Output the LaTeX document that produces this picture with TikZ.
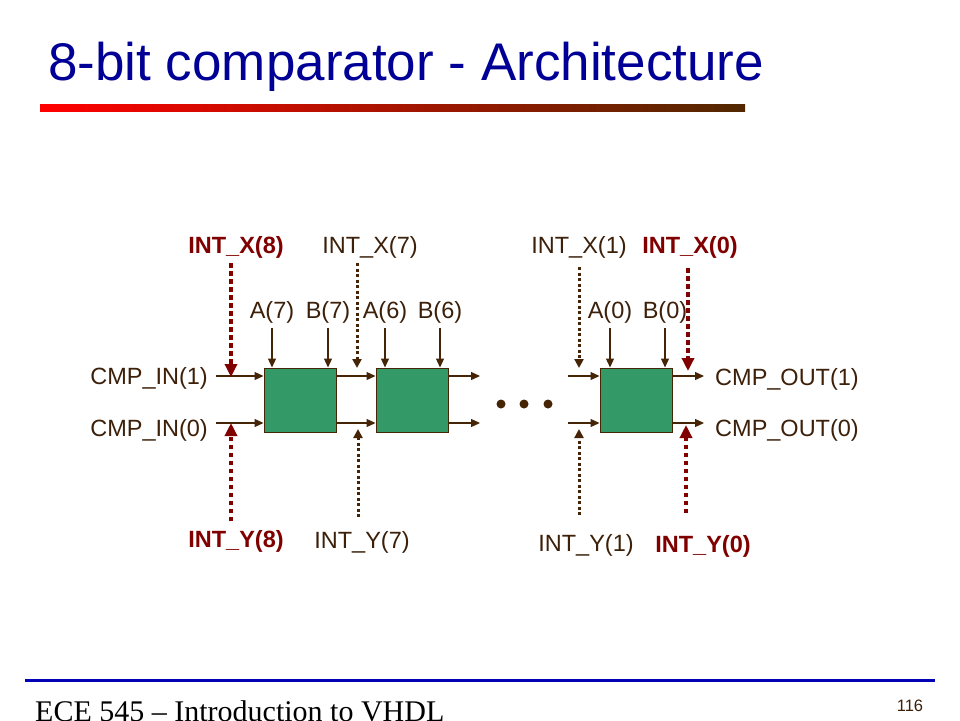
\documentclass[tikz,border=0pt]{standalone}
\usepackage{fontspec}
\setmainfont{Liberation Sans}
\newfontfamily\timesfont{Liberation Serif}
\usetikzlibrary{arrows.meta}
\definecolor{brn}{RGB}{70,36,6}
\definecolor{txtbrn}{RGB}{60,32,10}
\definecolor{maroon}{RGB}{128,0,0}
\definecolor{boxgreen}{RGB}{51,153,102}
\definecolor{titleblue}{RGB}{0,0,150}
\definecolor{lineblue}{RGB}{0,0,180}
\definecolor{barend}{RGB}{80,40,0}
\tikzset{
  lbl/.style={inner sep=0pt, anchor=base, text=txtbrn, font=\fontsize{23.5}{28}\selectfont},
  blbl/.style={inner sep=0pt, anchor=base, text=maroon, font=\fontsize{23.5}{28}\selectfont\bfseries},
  cmpbox/.style={draw=brn, line width=1pt, fill=boxgreen, minimum width=72pt, minimum height=64pt, inner sep=0pt},
  sig/.style={draw=brn, line width=1.3pt, -{Triangle[length=9pt,width=8pt]}},
  bdot/.style={draw=brn, line width=3pt, dash pattern=on 3pt off 2.5pt, -{Triangle[length=9pt,width=9pt]}},
  rdot/.style={draw=maroon, line width=4.5pt, dash pattern=on 4.5pt off 3.5pt, -{Triangle[length=13pt,width=12pt]}},
  edot/.style={circle, fill=brn, minimum size=9pt, inner sep=0pt},
}
\begin{document}
\begin{tikzpicture}[x=1pt,y=-1pt]
\useasboundingbox (0,0) rectangle (960,720);
\fill[white] (0,0) rectangle (960,720);
% title
\node[inner sep=0pt, anchor=base west, text=titleblue, font=\fontsize{53}{60}\selectfont] (title) at (48,80) {8-bit comparator - Architecture};
\shade[left color=red, right color=barend] (40,104) rectangle (745,111);
% footer
\draw[lineblue, line width=3pt] (25,680) -- (935,680);
\node[inner sep=0pt, anchor=base west, font=\timesfont\fontsize{30}{34}\selectfont] (foot) at (35,721) {ECE 545 \textendash{} Introduction to VHDL};
\node[inner sep=0pt, anchor=base, text=txtbrn, font=\fontsize{16.5}{20}\selectfont] (page) at (910,711) {116};
% boxes
\node[cmpbox] (b1) at (300,400) {};
\node[cmpbox] (b2) at (412,400) {};
\node[cmpbox] (b3) at (636,400) {};
\coordinate (r1) at (0,376);
\coordinate (r0) at (0,423);
% labels
\node[blbl] (lx8) at (236,253) {INT\_X(8)};
\node[lbl]  (lx7) at (370,253) {INT\_X(7)};
\node[lbl]  (lx1) at (579,253) {INT\_X(1)};
\node[blbl] (lx0) at (690,253) {INT\_X(0)};
\node[lbl] (la7) at (272,318) {A(7)};
\node[lbl] (lb7) at (328,318) {B(7)};
\node[lbl] (la6) at (385,318) {A(6)};
\node[lbl] (lb6) at (440,318) {B(6)};
\node[lbl] (la0) at (610,318) {A(0)};
\node[lbl] (lb0) at (665,318) {B(0)};
\node[lbl, anchor=base east] (lin1) at (208,384) {CMP\_IN(1)};
\node[lbl, anchor=base east] (lin0) at (208,436) {CMP\_IN(0)};
\node[lbl, anchor=base west] (lout1) at (715,385) {CMP\_OUT(1)};
\node[lbl, anchor=base west] (lout0) at (715,436) {CMP\_OUT(0)};
\node[blbl] (ly8) at (236,547) {INT\_Y(8)};
\node[lbl]  (ly7) at (362,548) {INT\_Y(7)};
\node[lbl]  (ly1) at (586,551) {INT\_Y(1)};
\node[blbl] (ly0) at (703,552) {INT\_Y(0)};
% A/B inputs
\foreach \n/\b in {la7/b1, lb7/b1, la6/b2, lb6/b2, la0/b3, lb0/b3}{
  \draw[sig] ([yshift=-10pt]\n.base) -- (\n.base |- \b.north);
}
% horizontal signals
\coordinate (in) at (216,0);
\coordinate (mid) at (480,0);
\coordinate (in3) at (568,0);
\coordinate (out) at (704,0);
\foreach \r in {r1,r0}{
  \draw[sig] (in |- \r) -- (b1.west |- \r);
  \draw[sig] (b1.east |- \r) -- (b2.west |- \r);
  \draw[sig] (b2.east |- \r) -- (mid |- \r);
  \draw[sig] (in3 |- \r) -- (b3.west |- \r);
  \draw[sig] (b3.east |- \r) -- (out |- \r);
}
% ellipsis
\node[edot] (d1) at (501,404) {};
\node[edot] (d2) at (524,404) {};
\node[edot] (d3) at (548,404) {};
% dotted arrows
\coordinate (sx8) at (231,263); \coordinate (tx8) at (231,377);
\coordinate (sx7) at (357,263); \coordinate (tx7) at (357,368);
\coordinate (sx1) at (579,267); \coordinate (tx1) at (579,368);
\coordinate (sx0) at (688,268); \coordinate (tx0) at (688,371);
\coordinate (sy8) at (231,521); \coordinate (ty8) at (231,423);
\coordinate (sy7) at (358,517); \coordinate (ty7) at (358,429);
\coordinate (sy1) at (579,515); \coordinate (ty1) at (579,429);
\coordinate (sy0) at (686,513); \coordinate (ty0) at (686,425);
\draw[rdot] (sx8) -- (tx8);
\draw[bdot] (sx7) -- (tx7);
\draw[bdot] (sx1) -- (tx1);
\draw[rdot] (sx0) -- (tx0);
\draw[rdot] (sy8) -- (ty8);
\draw[bdot] (sy7) -- (ty7);
\draw[bdot] (sy1) -- (ty1);
\draw[rdot] (sy0) -- (ty0);
\end{tikzpicture}
\end{document}
